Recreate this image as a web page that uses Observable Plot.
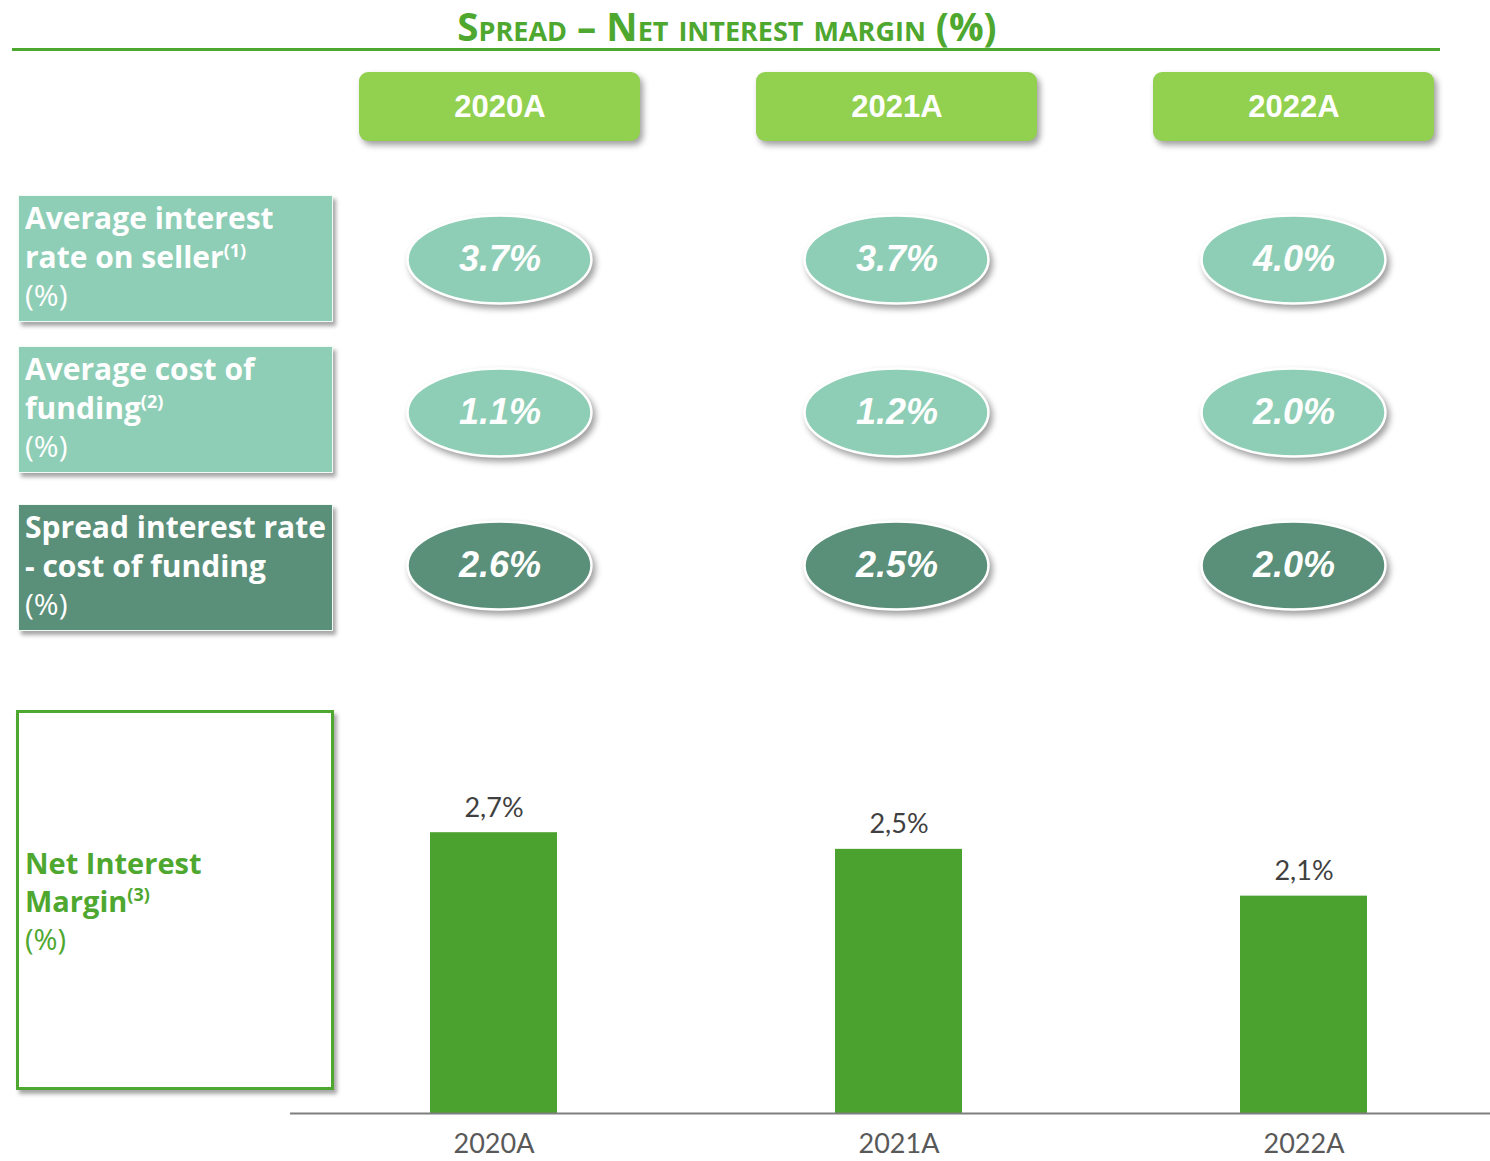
<!DOCTYPE html>
<html><head><meta charset="utf-8">
<script src="https://cdn.jsdelivr.net/npm/d3@7"></script>
<script src="https://cdn.jsdelivr.net/npm/@observablehq/plot@0.6"></script>
<style>
html,body{margin:0;padding:0;background:#fff;}
#wrap{position:relative;width:1490px;height:1161px;overflow:hidden;font-family:"Open Sans",sans-serif;}
#title{position:absolute;left:0;width:1454px;top:1px;text-align:center;color:#4ea72e;font-weight:700;font-size:38.5px;line-height:50px;font-variant:small-caps;white-space:nowrap;}
#rule{position:absolute;left:12px;width:1428px;top:48px;height:3px;background:#4ea72e;}
.lab{position:absolute;left:18px;width:315px;height:127px;box-sizing:border-box;padding:3px 6px;color:#fff;font-weight:700;font-size:30px;line-height:38.5px;box-shadow:3px 4px 4px rgba(0,0,0,.35);border:1px solid #f2faf6;white-space:nowrap;}
.lab sup,#nim sup{font-size:18px;line-height:0;vertical-align:11px;}
.pct{font-weight:400;}
#nim{position:absolute;left:16px;top:710px;width:318px;height:380px;box-sizing:border-box;border:3px solid #4ea72e;background:#fff;box-shadow:3px 4px 4px rgba(0,0,0,.35);color:#4ea72e;font-weight:700;font-size:29px;line-height:38px;padding:131px 6px 0 6px;}
.plotpos{position:absolute;left:0;}
svg g[aria-label="cell"]{filter:drop-shadow(3px 4px 3px rgba(0,0,0,0.38));}
</style>
</head><body>
<div id="wrap">
  <div id="title">Spread – Net interest margin (%)</div>
  <div id="rule"></div>
  <div id="topgrid" class="plotpos" style="top:0px"></div>
  <div class="lab" style="top:195px;background:#8fceb6">Average interest<br>rate on seller<sup>(1)</sup><br><span class="pct">(%)</span></div>
  <div class="lab" style="top:346px;background:#8fceb6">Average cost of<br>funding<sup>(2)</sup><br><span class="pct">(%)</span></div>
  <div class="lab" style="top:504px;background:#5a8f79">Spread interest rate<br>- cost of funding<br><span class="pct">(%)</span></div>
  <div id="nim">Net Interest<br>Margin<sup>(3)</sup><br><span class="pct">(%)</span></div>
  <div id="bars" class="plotpos" style="top:697px"></div>
</div>
<script>
// ---- data ----
const years = ["2020A", "2021A", "2022A"];
const rowKeys = ["rate", "funding", "spread"];
const avgInterestRate = [3.7, 3.7, 4.0];
const avgCostOfFunding = [1.1, 1.2, 2.0];
const spreadRate = [2.6, 2.5, 2.0];
const netInterestMargin = [2.7, 2.54, 2.09];

const rowValues = {rate: avgInterestRate, funding: avgCostOfFunding, spread: spreadRate};
const rowFill = {rate: "#8fceb6", funding: "#8fceb6", spread: "#5a8f79"};

const gridCells = [];
rowKeys.forEach(k => years.forEach((yr, i) => gridCells.push({year: yr, row: k, value: rowValues[k][i]})));
const headerCells = years.map(yr => ({year: yr, row: "hdr"}));

// ---- top grid ----
const topPlot = Plot.plot({
  width: 1490, height: 650,
  x: {domain: years, range: [300, 1492], axis: null, padding: 0},
  y: {domain: ["hdr", ...rowKeys], range: [29, 643], axis: null, padding: 0},
  style: {background: "transparent", overflow: "visible"},
  marks: [
    Plot.cell(headerCells, {x: "year", y: "row", fill: "#92d050", insetLeft: 58, insetRight: 58, insetTop: 42, insetBottom: 42, rx: 9, ry: 9}),
    Plot.text(headerCells, {x: "year", y: "row", text: "year", fill: "white", fontSize: 31, fontWeight: "bold", fontFamily: "Liberation Sans, Arial, sans-serif"}),
    Plot.cell(gridCells, {x: "year", y: "row", fill: d => rowFill[d.row], stroke: "white", strokeWidth: 2.5, insetLeft: 106.5, insetRight: 106.5, insetTop: 32.5, insetBottom: 32.5, rx: 200, ry: 200}),
    Plot.text(gridCells, {x: "year", y: "row", text: d => d.value.toFixed(1) + "%", fill: "white", fontSize: 36, fontWeight: "bold", fontStyle: "italic", fontFamily: "Liberation Sans, Arial, sans-serif", dy: -1})
  ]
});
document.getElementById("topgrid").appendChild(topPlot);

// ---- bar chart ----
const nimData = years.map((yr, i) => ({year: yr, value: netInterestMargin[i]}));
const barPlot = Plot.plot({
  width: 1490, height: 464,
  marginLeft: 290, marginRight: 0, marginTop: 0, marginBottom: 48,
  x: {domain: years, paddingInner: 0.687, paddingOuter: 0.3215, align: 0.533, label: null, tickSize: 0, tickPadding: 20},
  y: {domain: [0, 4], axis: null},
  style: {background: "transparent", fontFamily: "Lato, sans-serif", fontSize: "27px", color: "#595959", overflow: "visible"},
  marks: [
    Plot.barY(nimData, {x: "year", y: "value", fill: "#4ba22f"}),
    Plot.ruleY([0], {stroke: "#7f7f7f", strokeWidth: 2}),
    Plot.text(nimData, {x: "year", y: "value", text: d => d.value.toFixed(1).replace(".", ",") + "%", lineAnchor: "bottom", dy: -16, fontSize: 27, fill: "#404040", fontFamily: "Lato, sans-serif"})
  ]
});
document.getElementById("bars").appendChild(barPlot);
</script>
</body></html>
